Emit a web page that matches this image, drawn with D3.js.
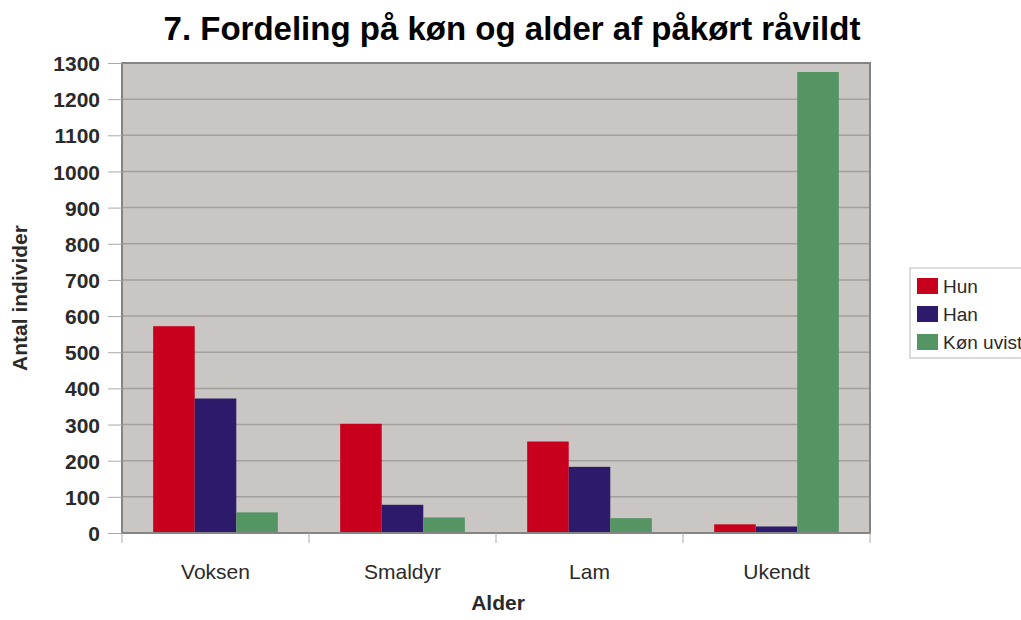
<!DOCTYPE html>
<html>
<head>
<meta charset="utf-8">
<script src="https://cdn.jsdelivr.net/npm/d3@7"></script>
<style>
  html, body { margin: 0; padding: 0; background: #fff; }
  svg { display: block; font-family: "Liberation Sans", Arial, sans-serif; }
</style>
</head>
<body>
<svg id="chart" width="1021" height="620"></svg>
<script>
const title = "7. Fordeling på køn og alder af påkørt råvildt";
const categories = ["Voksen", "Smaldyr", "Lam", "Ukendt"];
const seriesNames = ["Hun", "Han", "Køn uvist"];
const hun = [572, 302, 253, 24];
const han = [372, 78, 183, 18];
const konUvist = [57, 43, 41, 1275];
const yTicks = [0, 100, 200, 300, 400, 500, 600, 700, 800, 900, 1000, 1100, 1200, 1300];
const xTitle = "Alder";
const yTitle = "Antal individer";

const colors = ["#c8001e", "#2e1a6b", "#559463"];
const seriesValues = [hun, han, konUvist];

const svg = d3.select("#chart");
const plot = { left: 122, right: 870, top: 63, bottom: 533 };

const x = d3.scaleBand().domain(categories).range([plot.left, plot.right]).paddingInner(0).paddingOuter(0);
const inner = d3.scaleBand().domain(seriesNames).range([0, x.bandwidth()]).paddingInner(0).paddingOuter(0.75);
const y = d3.scaleLinear().domain([0, 1300]).range([plot.bottom, plot.top]);

// plot background
svg.append("rect")
  .attr("x", plot.left).attr("y", plot.top)
  .attr("width", plot.right - plot.left).attr("height", plot.bottom - plot.top)
  .attr("fill", "#c9c6c3");

// gridlines
svg.append("g").selectAll("line").data(yTicks.filter(d => d > 0)).join("line")
  .attr("x1", plot.left).attr("x2", plot.right)
  .attr("y1", d => y(d)).attr("y2", d => y(d))
  .attr("stroke", "#a3a09d").attr("stroke-width", 1.5);

// bars
const data = [];
categories.forEach((c, i) => seriesNames.forEach((s, j) => data.push({ c, s, j, v: seriesValues[j][i] })));
svg.append("g").selectAll("rect").data(data).join("rect")
  .attr("x", d => x(d.c) + inner(d.s))
  .attr("width", inner.bandwidth())
  .attr("y", d => y(d.v))
  .attr("height", d => y(0) - y(d.v))
  .attr("fill", d => colors[d.j]);

// plot border
svg.append("rect")
  .attr("x", plot.left).attr("y", plot.top)
  .attr("width", plot.right - plot.left).attr("height", plot.bottom - plot.top)
  .attr("fill", "none").attr("stroke", "#858585").attr("stroke-width", 2);

// y axis
const yAxis = d3.axisLeft(y).tickValues(yTicks).tickSize(14).tickPadding(8).tickFormat(d3.format("d"));
const gy = svg.append("g").attr("transform", `translate(${plot.left},0)`).call(yAxis);
gy.select(".domain").remove();
gy.selectAll(".tick line").attr("stroke", "#aaa").attr("stroke-width", 1);
gy.selectAll(".tick text").attr("font-size", 21).attr("fill", "#2a2a2a")
  .attr("font-family", "Liberation Sans, Arial, sans-serif").attr("font-weight", "bold").attr("dy", "0.36em");

// x axis (category separator ticks)
const sepTicks = d3.scaleLinear().domain([0, categories.length]).range([plot.left, plot.right]);
svg.append("g").selectAll("line").data(d3.range(categories.length + 1)).join("line")
  .attr("x1", d => sepTicks(d)).attr("x2", d => sepTicks(d))
  .attr("y1", plot.bottom).attr("y2", plot.bottom + 10)
  .attr("stroke", "#aaa").attr("stroke-width", 1);
svg.append("g").selectAll("text").data(categories).join("text")
  .attr("x", d => x(d) + x.bandwidth() / 2)
  .attr("y", 579)
  .attr("text-anchor", "middle")
  .attr("font-size", 21)
  .attr("fill", "#2a2a2a")
  .text(d => d);

// axis titles
svg.append("text").attr("x", (plot.left + plot.right) / 2 + 2).attr("y", 610)
  .attr("text-anchor", "middle").attr("font-size", 21).attr("font-weight", "bold").attr("fill", "#2a2a2a")
  .text(xTitle);
svg.append("text").attr("transform", "translate(27,298) rotate(-90)")
  .attr("text-anchor", "middle").attr("font-size", 21).attr("font-weight", "bold").attr("fill", "#2a2a2a")
  .text(yTitle);

// title
svg.append("text").attr("x", 512).attr("y", 40)
  .attr("text-anchor", "middle").attr("font-size", 33).attr("font-weight", "bold").attr("fill", "#000")
  .text(title);

// legend
const lg = svg.append("g").attr("transform", "translate(910,268)");
lg.append("rect").attr("x", 0).attr("y", 0).attr("width", 130).attr("height", 90)
  .attr("fill", "#fff").attr("stroke", "#cfcfcf").attr("stroke-width", 1.5);
lg.selectAll("g.item").data(seriesNames).join("g").attr("class", "item")
  .attr("transform", (d, i) => `translate(7,${10 + i * 28})`)
  .each(function (d, i) {
    const g = d3.select(this);
    g.append("rect").attr("width", 21).attr("height", 16).attr("fill", colors[i]);
    g.append("text").attr("x", 26).attr("y", 14.5).attr("font-size", 19).attr("fill", "#2a2a2a").text(d);
  });
</script>
</body>
</html>
